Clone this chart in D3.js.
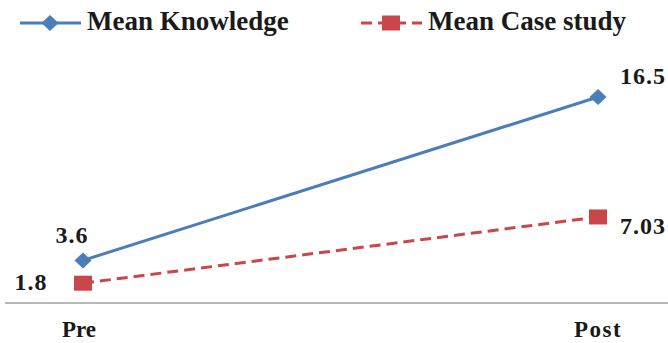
<!DOCTYPE html>
<html>
<head>
<meta charset="utf-8">
<script src="https://cdnjs.cloudflare.com/ajax/libs/d3/7.8.5/d3.min.js"></script>
<style>
  html, body { margin: 0; padding: 0; background: #fff; }
  svg { display: block; }
</style>
</head>
<body>
<div id="chart"></div>
<script>
// Pre / post means for the two measures
const phases = ["Pre", "Post"];
const knowledge = [3.6, 16.5];
const caseStudy = [1.8, 7.03];
const seriesNames = ["Mean Knowledge", "Mean Case study"];

const width = 668, height = 343;
const fontFamily = "'Liberation Serif', 'Times New Roman', Times, serif";
const svg = d3.select("#chart").append("svg")
  .attr("width", width).attr("height", height);

const x = d3.scalePoint().domain(phases).range([83, 598]);
const y = d3.scaleLinear().domain([0, 16.5]).range([306, 97]);

const blue = "#4a7ebb", red = "#c9474a";

const series = [
  { name: seriesNames[0], values: knowledge, color: blue, dash: null, shape: "diamond" },
  { name: seriesNames[1], values: caseStudy, color: red, dash: "11,6", shape: "square" }
];

function label(sel, size) {
  return sel.attr("font-family", fontFamily).attr("font-weight", "bold")
    .attr("fill", "#1a1a1a").attr("font-size", size);
}

// category axis line along the baseline
svg.append("line")
  .attr("x1", 5).attr("x2", width)
  .attr("y1", 303).attr("y2", 303)
  .attr("stroke", "#a0a0a0").attr("stroke-width", 1.5);

svg.selectAll("text.cat").data(phases).enter().append("text")
  .attr("class", "cat")
  .attr("x", (d, i) => x(d) + (i === 0 ? -4 : 0)).attr("y", 337)
  .attr("text-anchor", "middle")
  .attr("letter-spacing", (d, i) => i === 0 ? 0 : 1.5)
  .call(label, 23)
  .text(d => d);

const line = d3.line().x((d, i) => x(phases[i])).y(d => y(d));

function marker(g, shape, color, cx, cy) {
  if (shape === "diamond") {
    g.append("path")
      .attr("d", `M${cx},${cy - 8}L${cx + 8.5},${cy}L${cx},${cy + 8}L${cx - 8.5},${cy}Z`)
      .attr("fill", color);
  } else {
    g.append("rect")
      .attr("x", cx - 9).attr("y", cy - 7.5)
      .attr("width", 18).attr("height", 15)
      .attr("fill", color);
  }
}

series.forEach(s => {
  const g = svg.append("g");
  g.append("path")
    .datum(s.values)
    .attr("d", line)
    .attr("fill", "none")
    .attr("stroke", s.color)
    .attr("stroke-width", 3)
    .attr("stroke-dasharray", s.dash);
  s.values.forEach((v, i) => marker(g, s.shape, s.color, x(phases[i]), y(v)));
});

// value labels
const labelFmt = v => String(v);
const valueLabels = [
  { v: knowledge[0], x: 72, dy: -17, anchor: "middle" },
  { v: caseStudy[0], x: 31, dy: 7, anchor: "middle" },
  { v: knowledge[1], x: 620, dy: -13, anchor: "start" },
  { v: caseStudy[1], x: 620, dy: 17, anchor: "start" }
];
valueLabels.forEach(d => {
  svg.append("text").attr("x", d.x).attr("y", y(d.v) + d.dy)
    .attr("text-anchor", d.anchor).attr("letter-spacing", 1)
    .call(label, 24).text(labelFmt(d.v));
});

// legend
const legendPos = [20, 361];
series.forEach((s, i) => {
  const g = svg.append("g").attr("transform", `translate(${legendPos[i]},23)`);
  g.append("line").attr("x1", 0).attr("x2", 61).attr("y1", 0).attr("y2", 0)
    .attr("stroke", s.color).attr("stroke-width", 3)
    .attr("stroke-dasharray", s.dash ? "11,6" : null);
  marker(g, s.shape, s.color, 30, 0);
  g.append("text").attr("x", 67).attr("y", 7).call(label, 27).text(s.name);
});
</script>
</body>
</html>
